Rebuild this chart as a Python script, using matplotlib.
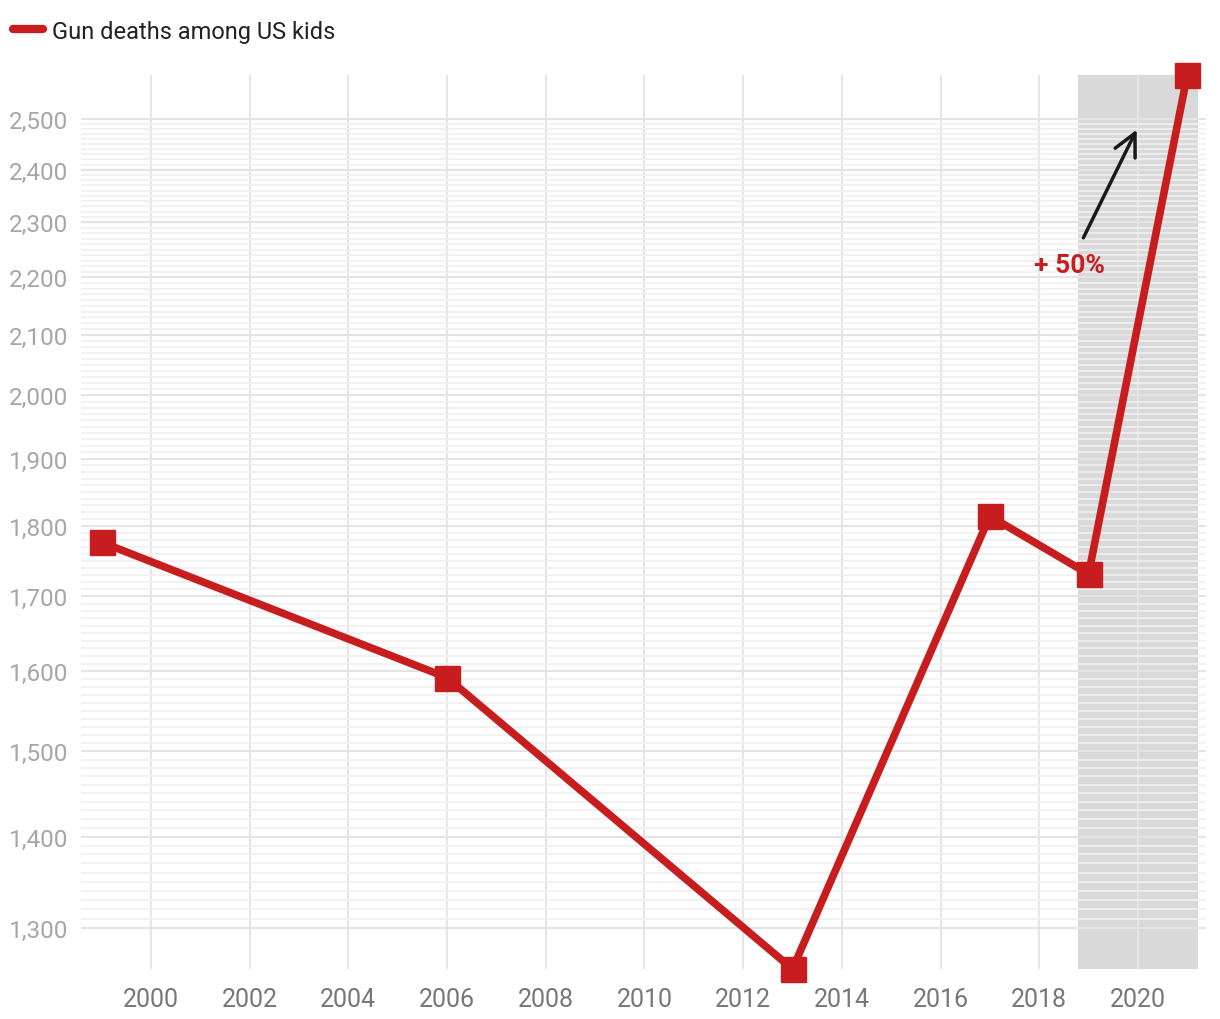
import matplotlib.pyplot as plt
from matplotlib.ticker import FixedLocator, NullFormatter

plt.rcParams['font.family'] = ['Roboto', 'DejaVu Sans']

# data
years = [1999, 2006, 2013, 2017, 2019, 2021]
deaths = [1776, 1592, 1258, 1814, 1731, 2591]
y_ticks = [1300, 1400, 1500, 1600, 1700, 1800, 1900, 2000, 2100, 2200, 2300, 2400, 2500]
y_minor = list(range(1310, 2500, 10))
x_ticks = [2000, 2002, 2004, 2006, 2008, 2010, 2012, 2014, 2016, 2018, 2020]
label = "Gun deaths among US kids"
red = '#c81d1f'

fig = plt.figure(figsize=(12.2, 10.2), dpi=100)
ax = fig.add_axes([81 / 1220, 50 / 1020, 1125 / 1220, 894 / 1020])

# shaded recent period
ax.axvspan(2018.79, 2021.21, color='#d9d9d9', zorder=0.2, lw=0)

ax.plot(years, deaths, '-s', color=red, lw=5.5, markersize=18,
        label=label, zorder=3, clip_on=False, solid_capstyle='butt')

ax.set_yscale('log')
ax.set_xlim(1998.58, 2021.38)
ax.set_ylim(min(deaths), max(deaths))

ax.yaxis.set_major_locator(FixedLocator(y_ticks))
ax.yaxis.set_minor_locator(FixedLocator(y_minor))
ax.yaxis.set_minor_formatter(NullFormatter())
ax.set_yticklabels(['{:,}'.format(v) for v in y_ticks])
ax.set_xticks(x_ticks)

ax.set_axisbelow(True)
ax.grid(True, axis='x', color='#e6e6e6', lw=1.5)
ax.grid(True, axis='y', which='major', color='#e4e4e4', lw=1.5)
ax.grid(True, axis='y', which='minor', color='#f0f0f0', lw=1.2)

for s in ax.spines.values():
    s.set_visible(False)
ax.tick_params(axis='both', which='both', length=0)
ax.tick_params(axis='y', labelsize=17.5, labelcolor='#a6a6a6', pad=9)
ax.tick_params(axis='x', labelsize=18, labelcolor='#777777', pad=13)

# annotation
ax.annotate('', xy=(2020.0, 2484), xytext=(2018.87, 2267),
            arrowprops=dict(arrowstyle='->', color='#1a1a1a', lw=2.5,
                            mutation_scale=40), zorder=4)
ax.text(2018.62, 2222, '+ 50%', color=red, fontsize=19, fontweight='bold',
        ha='center', va='center', zorder=4)

leg = fig.legend(loc='center left', bbox_to_anchor=(13 / 1220, 1 - 32 / 1020),
                 frameon=False, fontsize=17, handlelength=1.25,
                 handletextpad=0.4, borderpad=0, borderaxespad=0)
for h in leg.get_lines():
    h.set_marker('')
    h.set_solid_capstyle('round')
    h.set_linewidth(6)
for t in leg.get_texts():
    t.set_color('#222222')

fig.savefig('out.png', dpi=100)
